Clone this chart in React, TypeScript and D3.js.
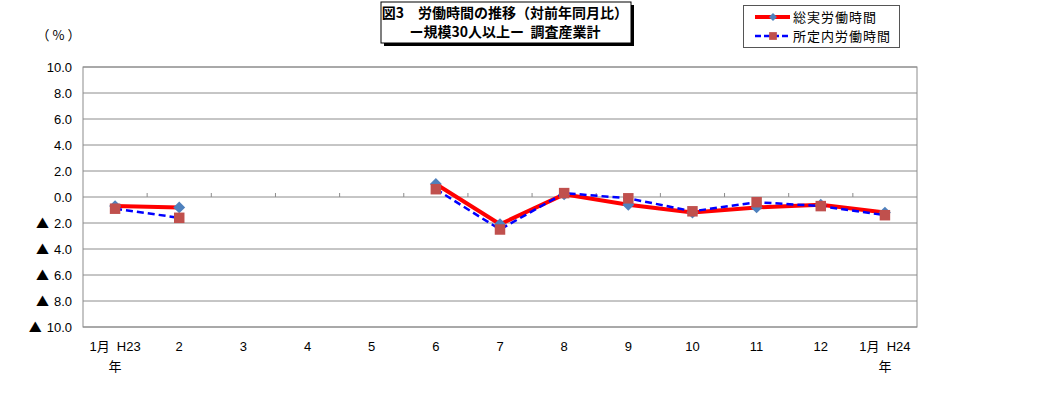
import React, { useEffect, useRef } from "react";
import * as d3 from "d3";

// --- Data
const months = ["1月 H23", "2", "3", "4", "5", "6", "7", "8", "9", "10", "11", "12", "1月 H24"];
const totalHours: (number | null)[] = [-0.7, -0.8, null, null, null, 1.0, -2.1, 0.2, -0.6, -1.2, -0.8, -0.6, -1.2];
const scheduledHours: (number | null)[] = [-0.9, -1.6, null, null, null, 0.6, -2.5, 0.3, -0.1, -1.1, -0.4, -0.7, -1.4];
const yTicks = [10, 8, 6, 4, 2, 0, -2, -4, -6, -8, -10];
const titleLines = ["図3　労働時間の推移（対前年同月比）", "ー規模30人以上ー  調査産業計"];
const seriesNames = ["総実労働時間", "所定内労働時間"];

const FONT = "'Liberation Sans', 'Noto Sans CJK JP', sans-serif";
const JP = "'Noto Sans CJK JP', sans-serif";

const App: React.FC = () => {
  const ref = useRef<SVGSVGElement | null>(null);

  useEffect(() => {
    if (!ref.current) return;
    const width = 1039;
    const height = 408;
    const margin = { top: 67, right: 122, bottom: 81, left: 83 };

    const root = d3.select(ref.current);
    root.selectAll("*").remove();
    root.attr("width", width).attr("height", height);

    const x = d3
      .scaleBand<string>()
      .domain(months)
      .range([margin.left, width - margin.right]);
    const y = d3
      .scaleLinear()
      .domain([-10, 10])
      .range([height - margin.bottom, margin.top]);
    const cx = (i: number) => (x(months[i]) ?? 0) + x.bandwidth() / 2;

    // --- Gridlines
    root
      .append("g")
      .selectAll("line")
      .data(yTicks)
      .join("line")
      .attr("x1", margin.left)
      .attr("x2", width - margin.right)
      .attr("y1", (d) => y(d))
      .attr("y2", (d) => y(d))
      .attr("stroke", "#8c8c8c")
      .attr("stroke-width", 1);

    // Plot border
    root
      .append("rect")
      .attr("x", margin.left)
      .attr("y", margin.top)
      .attr("width", width - margin.left - margin.right)
      .attr("height", height - margin.top - margin.bottom)
      .attr("fill", "none")
      .attr("stroke", "#8c8c8c");

    // Category ticks on zero line
    root
      .append("g")
      .selectAll("line")
      .data(months.slice(1))
      .join("line")
      .attr("x1", (d) => x(d) ?? 0)
      .attr("x2", (d) => x(d) ?? 0)
      .attr("y1", y(0))
      .attr("y2", y(0) - 4)
      .attr("stroke", "#8c8c8c");

    // Y labels
    const yl = root
      .append("g")
      .selectAll("text")
      .data(yTicks)
      .join("text")
      .attr("x", 72)
      .attr("y", (d) => y(d) + 5)
      .attr("text-anchor", "end")
      .style("font-family", FONT)
      .style("font-size", "13px");
    yl.filter((d) => d < 0)
      .append("tspan")
      .style("font-family", JP)
      .text("▲");
    yl.append("tspan")
      .attr("dx", (d) => (d < 0 ? 5 : 0))
      .text((d) => Math.abs(d).toFixed(1));

    root
      .append("text")
      .attr("x", 60)
      .attr("y", 40)
      .attr("text-anchor", "middle")
      .style("font-family", JP)
      .style("font-size", "13px")
      .style("letter-spacing", "3px")
      .text("（%）");

    // X labels
    months.forEach((m, i) => {
      const parts = m.split(" ");
      const g = root.append("g");
      g.append("text")
        .attr("x", cx(i))
        .attr("y", 351)
        .attr("text-anchor", "middle")
        .style("font-family", FONT)
        .style("font-size", "13px")
        .attr("xml:space", "preserve")
        .text(parts.length === 2 ? `${parts[0]}  ${parts[1]}` : m);
      if (parts.length === 2) {
        g.append("text")
          .attr("x", cx(i))
          .attr("y", 371)
          .attr("text-anchor", "middle")
          .style("font-family", JP)
          .style("font-size", "13px")
          .text("年");
      }
    });

    // --- Lines
    const line = d3
      .line<number | null>()
      .defined((d) => d !== null)
      .x((_, i) => cx(i))
      .y((d) => y(d as number));

    root
      .append("path")
      .attr("d", line(totalHours))
      .attr("fill", "none")
      .attr("stroke", "#ff0000")
      .attr("stroke-width", 4);

    root
      .append("path")
      .attr("d", line(scheduledHours))
      .attr("fill", "none")
      .attr("stroke", "#0000ff")
      .attr("stroke-width", 2.5)
      .attr("stroke-dasharray", "7,4");

    const diamond = d3.symbol().type(d3.symbolDiamond2).size(90);
    const square = d3.symbol().type(d3.symbolSquare).size(110);

    root
      .append("g")
      .selectAll("path")
      .data(totalHours.map((v, i) => ({ v, i })).filter((d) => d.v !== null))
      .join("path")
      .attr("d", diamond)
      .attr("transform", (d) => `translate(${cx(d.i)},${y(d.v as number)})`)
      .attr("fill", "#4f81bd");

    root
      .append("g")
      .selectAll("path")
      .data(scheduledHours.map((v, i) => ({ v, i })).filter((d) => d.v !== null))
      .join("path")
      .attr("d", square)
      .attr("transform", (d) => `translate(${cx(d.i)},${y(d.v as number)})`)
      .attr("fill", "#c0504d");

    // --- Title box
    root
      .append("rect")
      .attr("x", 384)
      .attr("y", 5)
      .attr("width", 250)
      .attr("height", 41)
      .attr("fill", "#000");
    root
      .append("rect")
      .attr("x", 381)
      .attr("y", 2)
      .attr("width", 250)
      .attr("height", 41)
      .attr("fill", "#fff")
      .attr("stroke", "#000")
      .attr("stroke-width", 1);
    titleLines.forEach((t, i) => {
      root
        .append("text")
        .attr("x", 505)
        .attr("y", 18 + i * 19)
        .attr("text-anchor", "middle")
        .attr("xml:space", "preserve")
        .style("font-family", JP)
        .style("font-size", "14px")
        .style("font-weight", "bold")
        .text(t);
    });

    // --- Legend
    root
      .append("rect")
      .attr("x", 743.5)
      .attr("y", 5.5)
      .attr("width", 156)
      .attr("height", 42)
      .attr("fill", "#fff")
      .attr("stroke", "#555");

    const legend = root.append("g");
    legend
      .append("line")
      .attr("x1", 755)
      .attr("x2", 790)
      .attr("y1", 17)
      .attr("y2", 17)
      .attr("stroke", "#ff0000")
      .attr("stroke-width", 4);
    legend
      .append("path")
      .attr("d", d3.symbol().type(d3.symbolDiamond2).size(40))
      .attr("transform", "translate(773,17)")
      .attr("fill", "#4f81bd");
    legend
      .append("line")
      .attr("x1", 755)
      .attr("x2", 790)
      .attr("y1", 36)
      .attr("y2", 36)
      .attr("stroke", "#0000ff")
      .attr("stroke-width", 2.5)
      .attr("stroke-dasharray", "6,3");
    legend
      .append("path")
      .attr("d", d3.symbol().type(d3.symbolSquare).size(60))
      .attr("transform", "translate(773,36)")
      .attr("fill", "#c0504d");
    seriesNames.forEach((s, i) => {
      legend
        .append("text")
        .attr("x", 793)
        .attr("y", 22 + i * 19)
        .style("font-family", JP)
        .style("font-size", "13px")
        .style("letter-spacing", "1px")
        .text(s);
    });

    return () => {
      root.selectAll("*").remove();
    };
  }, []);

  return (
    <div style={{ position: "absolute", left: 0, top: 0 }}>
      <svg ref={ref} style={{ display: "block", background: "#fff" }}></svg>
    </div>
  );
};

export default App;
